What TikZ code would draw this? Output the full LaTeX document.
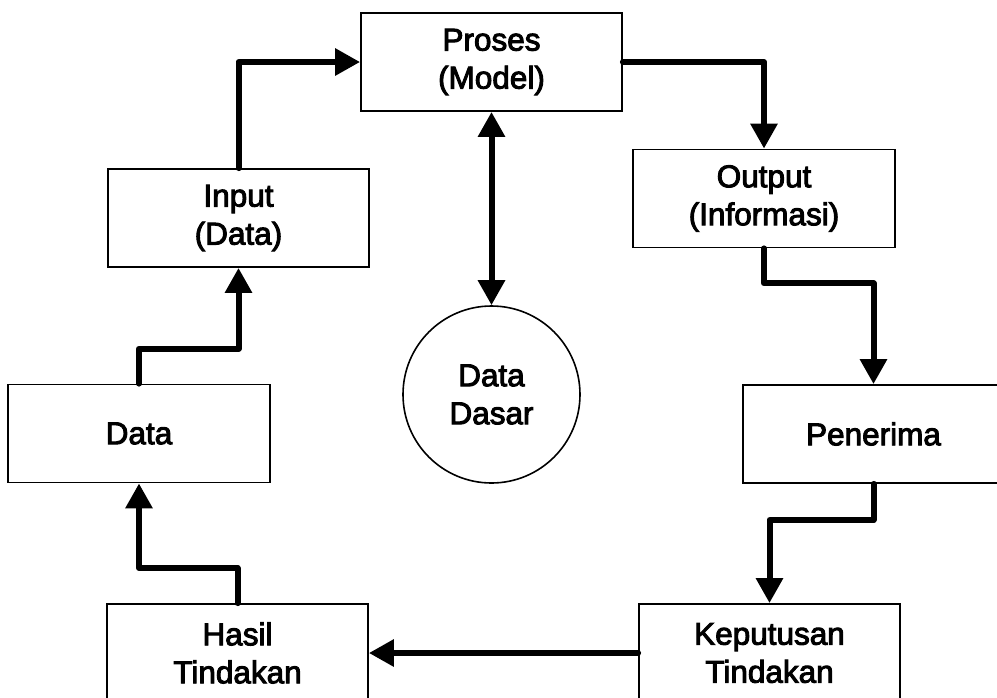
\documentclass[tikz,border=0pt]{standalone}
\usepackage{fontspec}
\setmainfont{Liberation Sans}[FakeBold=3]
\usetikzlibrary{arrows.meta}
\begin{document}
\begin{tikzpicture}[x=1pt,y=-1pt,
  box/.style={draw, line width=1.8pt, minimum width=261pt, minimum height=98pt, inner sep=0pt, align=center,
    font=\fontsize{31.5}{38}\selectfont},
  flow/.style={line width=6pt, line join=round, line cap=round, -{Triangle[length=25pt,width=26pt]}},
  both/.style={line width=6pt, {Triangle[length=25pt,width=26pt]}-{Triangle[length=25pt,width=26pt]}}]
\useasboundingbox[fill=white] (0,0) rectangle (997,697);
\node[box] (proses) at (491.5,62) {Proses\\(Model)};
\node[box] (input) at (238.5,218) {Input\\(Data)};
\node[box, minimum width=262pt] (output) at (764,198.5) {Output\\(Informasi)};
\node[box, minimum width=262pt] (data) at (139,433.5) {Data};
\node[box] (penerima) at (873.5,434) {Penerima};
\node[box] (hasil) at (237.5,653) {Hasil\\Tindakan};
\node[box] (keputusan) at (769.5,653) {Keputusan\\Tindakan};
\node[draw, circle, line width=1.6pt, minimum size=177pt, inner sep=0pt, align=center,
  font=\fontsize{31.5}{38}\selectfont] (dasar) at (491.5,394.5) {Data\\Dasar};
\draw[flow] (input.north) |- (proses.west);
\draw[flow] (proses.east) -| (output.north);
\draw[flow] (output.south) -- ++(0,35) -| (penerima.north);
\draw[flow] (penerima.south) -- ++(0,36) -| (keputusan.north);
\draw[flow] (keputusan.west) -- (hasil.east);
\draw[flow] (hasil.north) -- ++(0,-35) -| (data.south);
\draw[flow] (data.north) -- ++(0,-35) -| (input.south);
\draw[both] (proses.south) -- (dasar.north);
\end{tikzpicture}
\end{document}
